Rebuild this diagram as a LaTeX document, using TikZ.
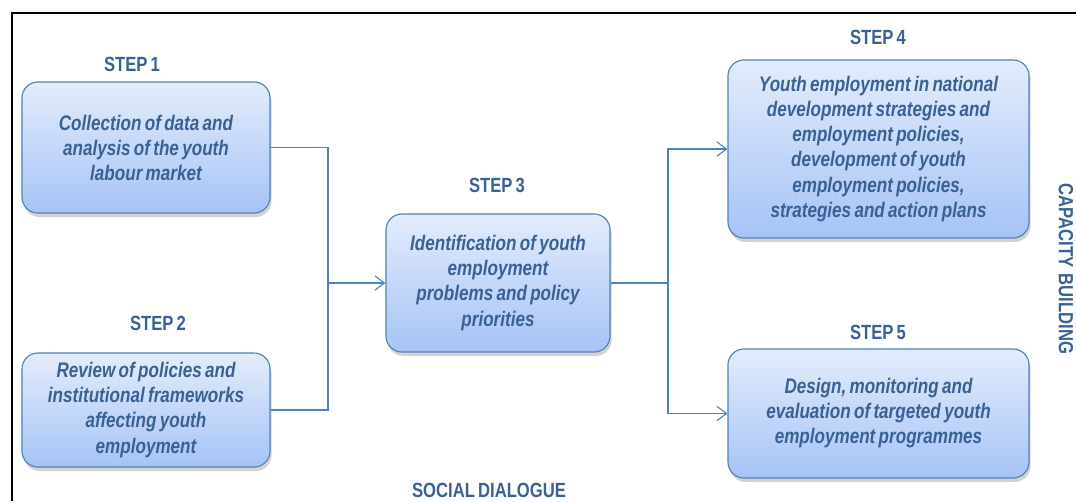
\documentclass[tikz,border=0pt]{standalone}
\usepackage{fontspec}
\newfontfamily\diagfont{Liberation Sans}[FakeStretch=0.81, WordSpace=0.7]
\usetikzlibrary{arrows.meta,shadows}
\definecolor{boxline}{HTML}{4F81BD}
\definecolor{boxtop}{HTML}{E3ECFC}
\definecolor{boxbottom}{HTML}{A6C3F6}
\definecolor{stepblue}{HTML}{3A6194}
\begin{document}
\begin{tikzpicture}[
                x = 0.025cm, y = -0.025cm,
                stepbox/.style = {draw = boxline, line width = 0.8pt, rounded corners = 4mm,
                    top color = boxtop, bottom color = boxbottom, align = center, inner sep = 0mm,
                    text = stepblue, font = \diagfont\bfseries\itshape\fontsize{15}{17.8}\selectfont,
                    drop shadow = {opacity = 0.35, shadow xshift = 0.4mm, shadow yshift = -1mm}},
                steplabel/.style = {text = stepblue, font = \diagfont\bfseries\fontsize{14.6}{16}\selectfont, inner sep = 0mm},
                line/.style = {draw = boxline, line width = 0.8pt},
                arr/.style = {line, -{Straight Barb[length = 2.4mm, width = 3.6mm]}},
            ]
            \useasboundingbox (0,0) rectangle (1076,501);
            \draw[line width = 1.3pt] (12,501) -- (12,13) -- (1076,13);

            \node (s1) [stepbox, minimum width = 6.2cm, minimum height = 3.275cm] at (146,147.5)
                {Collection of data and\\analysis of the youth\\labour market};
            \node (s2) [stepbox, minimum width = 6.2cm, minimum height = 2.85cm] at (146,410)
                {Review of policies and\\institutional frameworks\\affecting youth\\employment};
            \node (s3) [stepbox, minimum width = 5.6cm, minimum height = 3.45cm] at (498,283)
                {Identification of youth\\employment\\problems and policy\\priorities};
            \node (s4) [stepbox, minimum width = 7.525cm, minimum height = 4.45cm] at (878.5,149)
                {Youth employment in national\\development strategies and\\employment policies,\\development of youth\\employment policies,\\strategies and action plans};
            \node (s5) [stepbox, minimum width = 7.525cm, minimum height = 3.225cm] at (878.5,413.5)
                {Design, monitoring and\\evaluation of targeted youth\\employment programmes};

            \node (l1) [steplabel] at (132,64){STEP 1};
            \node (l2) [steplabel] at (158,323){STEP 2};
            \node (l3) [steplabel] at (497,185){STEP 3};
            \node (l4) [steplabel] at (878,37){STEP 4};
            \node (l5) [steplabel] at (878,332){STEP 5};
            \node (sd) [steplabel] at (489,490){SOCIAL DIALOGUE};
            \node (cb) [steplabel, rotate = -90] at (1066,269){CAPACITY\ \ BUILDING};

            \coordinate (j1) at (328,283);
            \coordinate (j2) at (668,283);

            \path[line] (s1) -| (j1);
            \path[line] (s2) -| (j1);
            \path[arr] (j1) -- (s3);
            \path[line] (s3) -- (j2);
            \path[arr] (j2) |- (s4);
            \path[arr] (j2) |- (s5);
        \end{tikzpicture}
\end{document}
